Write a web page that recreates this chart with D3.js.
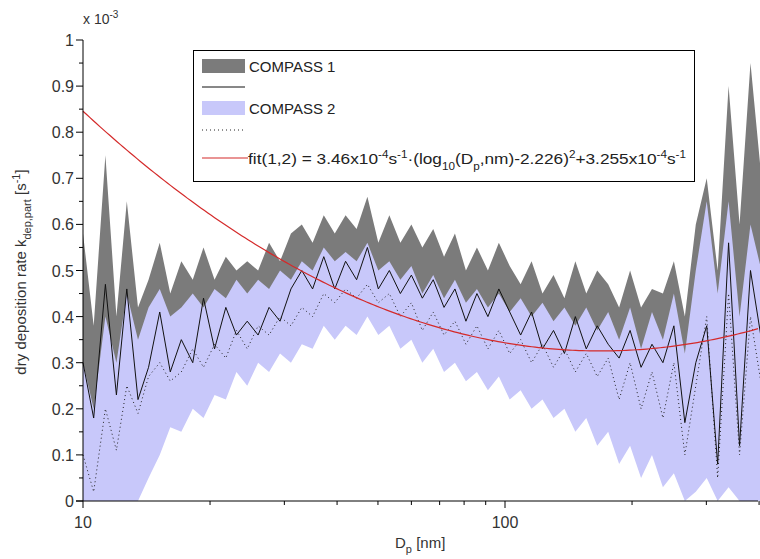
<!DOCTYPE html>
<html><head><meta charset="utf-8">
<script src="https://cdn.jsdelivr.net/npm/d3@7"></script>
<style>body{margin:0;background:#fff}svg{font-family:"Liberation Sans",Arial,sans-serif}</style>
</head><body><svg id="c" width="760" height="559"></svg>
<script>
const diam=[10,10.6,11.3,12.0,12.7,13.5,14.3,15.2,16.1,17.1,18.2,19.3,20.5,21.8,23.1,24.5,26.0,27.6,29.3,31.1,33.0,35.0,37.2,39.5,41.9,44.5,47.2,50.1,53.2,56.5,60.0,63.7,67.6,71.7,76.1,80.8,85.8,91.1,96.7,102.6,108.9,115.6,122.7,130.3,138.3,146.8,155.8,165.4,175.6,186.4,197.9,210.1,223.0,236.7,251.3,266.8,283.2,300.6,319.1,338.7,359.6,381.7,405.2];
const mean1=[0.30,0.18,0.47,0.23,0.46,0.22,0.29,0.41,0.28,0.35,0.30,0.44,0.33,0.42,0.36,0.39,0.36,0.42,0.39,0.46,0.50,0.46,0.53,0.46,0.52,0.48,0.55,0.46,0.50,0.45,0.49,0.44,0.48,0.42,0.46,0.39,0.45,0.40,0.46,0.41,0.36,0.41,0.33,0.37,0.32,0.40,0.33,0.38,0.34,0.31,0.37,0.29,0.34,0.30,0.38,0.17,0.30,0.38,0.08,0.56,0.12,0.50,0.35];
const hi1=[0.58,0.38,0.75,0.40,0.65,0.42,0.48,0.56,0.45,0.52,0.48,0.55,0.48,0.53,0.50,0.52,0.50,0.56,0.52,0.58,0.60,0.56,0.62,0.58,0.62,0.59,0.66,0.56,0.62,0.56,0.60,0.55,0.59,0.53,0.58,0.50,0.55,0.50,0.56,0.51,0.47,0.52,0.45,0.49,0.44,0.52,0.45,0.50,0.47,0.42,0.50,0.42,0.46,0.45,0.52,0.40,0.60,0.70,0.50,0.90,0.60,0.95,0.70];
const lo1=[0.18,0.08,0.30,0.15,0.30,0.15,0.22,0.30,0.22,0.28,0.25,0.35,0.28,0.35,0.31,0.34,0.31,0.36,0.34,0.40,0.44,0.40,0.47,0.40,0.45,0.42,0.48,0.40,0.44,0.39,0.42,0.38,0.40,0.35,0.38,0.32,0.37,0.32,0.38,0.33,0.27,0.32,0.24,0.28,0.22,0.30,0.22,0.28,0.22,0.18,0.25,0.15,0.20,0.15,0.22,0.05,0.10,0.15,0.0,0.20,0.02,0.25,0.10];
const mean2=[0.10,0.02,0.20,0.11,0.25,0.19,0.27,0.30,0.26,0.28,0.33,0.29,0.34,0.31,0.37,0.33,0.38,0.36,0.40,0.38,0.42,0.40,0.45,0.43,0.46,0.44,0.47,0.43,0.45,0.40,0.43,0.37,0.41,0.36,0.39,0.34,0.38,0.33,0.37,0.32,0.35,0.30,0.34,0.29,0.33,0.28,0.32,0.27,0.31,0.22,0.30,0.20,0.28,0.18,0.30,0.10,0.25,0.40,0.05,0.45,0.10,0.40,0.25];
const hi2=[0.30,0.20,0.40,0.30,0.45,0.35,0.42,0.46,0.40,0.42,0.45,0.42,0.46,0.44,0.48,0.45,0.48,0.46,0.50,0.48,0.52,0.50,0.55,0.52,0.54,0.52,0.56,0.50,0.52,0.48,0.51,0.45,0.49,0.44,0.48,0.43,0.46,0.42,0.45,0.41,0.44,0.40,0.43,0.39,0.42,0.38,0.42,0.37,0.41,0.35,0.42,0.33,0.41,0.35,0.45,0.32,0.50,0.65,0.45,0.65,0.40,0.60,0.50];
const lo2=[0.0,0.0,0.0,0.0,0.0,0.0,0.05,0.10,0.16,0.15,0.20,0.18,0.23,0.22,0.28,0.25,0.30,0.28,0.32,0.30,0.34,0.33,0.38,0.35,0.38,0.36,0.40,0.36,0.38,0.33,0.35,0.30,0.33,0.28,0.30,0.26,0.28,0.24,0.27,0.22,0.24,0.20,0.22,0.18,0.20,0.15,0.18,0.12,0.15,0.08,0.12,0.05,0.10,0.03,0.06,0.0,0.02,0.05,0.0,0.03,0.0,0.0,0.0];
const fitCoef={a:0.346,c:2.226,b:0.3255};
const yTicks=[0,0.1,0.2,0.3,0.4,0.5,0.6,0.7,0.8,0.9,1];
const xTickLabels=[10,100];
const xMinor=[20,30,40,50,60,70,80,90,200,300,400];

const svg=d3.select("#c");
const L=83,R=758,T=40,B=501;
const x=d3.scaleLog().domain([10,10**(1+(R-L)/422)]).range([L,R]);
const y=d3.scaleLinear().domain([0,1]).range([B,T]);
const n=Math.min(diam.length,mean1.length,hi1.length,lo1.length,mean2.length,hi2.length,lo2.length);
const idx=d3.range(n);
const g=svg.append("g");
g.append("path").attr("d",d3.area().x(i=>x(diam[i])).y0(i=>y(lo1[i])).y1(i=>y(hi1[i]))(idx)).attr("fill","#7b7b7b");
g.append("path").attr("d",d3.area().x(i=>x(diam[i])).y0(i=>y(lo2[i])).y1(i=>y(hi2[i]))(idx)).attr("fill","#c8c8fa");
g.append("path").attr("d",d3.line().x(i=>x(diam[i])).y(i=>y(mean2[i]))(idx)).attr("fill","none").attr("stroke","#222").attr("stroke-width",1).attr("stroke-dasharray","1,3");
g.append("path").attr("d",d3.line().x(i=>x(diam[i])).y(i=>y(mean1[i]))(idx)).attr("fill","none").attr("stroke","#111").attr("stroke-width",1);
const fx=d3.range(0,201).map(k=>10**(1+k/200*Math.log10(x.domain()[1]/10)));
g.append("path").attr("d",d3.line().x(d=>x(d)).y(d=>y(fitCoef.a*(Math.log10(d)-fitCoef.c)**2+fitCoef.b))(fx)).attr("fill","none").attr("stroke","#d42a2a").attr("stroke-width",1.2);

// axes
svg.append("line").attr("x1",L).attr("x2",L).attr("y1",T).attr("y2",B).attr("stroke","#000");
svg.append("line").attr("x1",L-7).attr("x2",R).attr("y1",B).attr("y2",B).attr("stroke","#000");
yTicks.forEach(v=>{svg.append("line").attr("x1",L-7).attr("x2",L).attr("y1",y(v)).attr("y2",y(v)).attr("stroke","#000");
 svg.append("text").attr("x",L-9).attr("y",y(v)+6).attr("text-anchor","end").attr("font-size",16).attr("fill","#333").text(v===0?"0":v===1?"1":d3.format(".1f")(v));});
d3.range(0.05,1,0.1).forEach(v=>svg.append("line").attr("x1",L-4).attr("x2",L).attr("y1",y(v)).attr("y2",y(v)).attr("stroke","#000"));
xTickLabels.forEach(v=>{svg.append("line").attr("x1",x(v)).attr("x2",x(v)).attr("y1",B).attr("y2",B+7).attr("stroke","#000");
 svg.append("text").attr("x",x(v)).attr("y",B+27).attr("text-anchor","middle").attr("font-size",16).attr("fill","#333").text(v);});
xMinor.forEach(v=>svg.append("line").attr("x1",x(v)).attr("x2",x(v)).attr("y1",B).attr("y2",B+4).attr("stroke","#000"));
svg.append("text").attr("x",L).attr("y",24).attr("font-size",14).attr("fill","#333").html('x 10<tspan dy="-6" font-size="10">-3</tspan>');
svg.append("text").attr("x",395).attr("y",548).attr("font-size",15).attr("fill","#333").html('D<tspan dy="5" font-size="11">p</tspan><tspan dy="-5"> [nm]</tspan>');
svg.append("text").attr("transform","translate(26,272) rotate(-90)").attr("text-anchor","middle").attr("font-size",15).attr("fill","#333")
 .html('dry deposition rate k<tspan dy="5" font-size="11">dep,part</tspan><tspan dy="-5"> [s</tspan><tspan dy="-6" font-size="11">-1</tspan><tspan dy="6">]</tspan>');

// legend
const lg=svg.append("g");
lg.append("rect").attr("x",193.5).attr("y",50.5).attr("width",501).attr("height",131).attr("fill","#fff").attr("stroke","#000");
lg.append("rect").attr("x",202).attr("y",59).attr("width",43).attr("height",14).attr("fill","#7b7b7b");
lg.append("text").attr("x",249).attr("y",72).attr("font-size",15).attr("fill","#222").text("COMPASS 1");
lg.append("line").attr("x1",202).attr("x2",245).attr("y1",87).attr("y2",87).attr("stroke","#111");
lg.append("rect").attr("x",202).attr("y",101).attr("width",43).attr("height",14).attr("fill","#c8c8fa");
lg.append("text").attr("x",249).attr("y",114).attr("font-size",15).attr("fill","#222").text("COMPASS 2");
lg.append("line").attr("x1",202).attr("x2",245).attr("y1",130).attr("y2",130).attr("stroke","#222").attr("stroke-dasharray","1,3");
lg.append("line").attr("x1",202).attr("x2",248).attr("y1",158).attr("y2",158).attr("stroke","#d42a2a").attr("stroke-width",1.2);
lg.append("text").attr("x",248).attr("y",164).attr("font-size",15.5).attr("fill","#222").attr("textLength",438).attr("lengthAdjust","spacingAndGlyphs")
 .html('fit(1,2) = 3.46x10<tspan dy="-6" font-size="10.5">-4</tspan><tspan dy="6">s</tspan><tspan dy="-6" font-size="10.5">-1</tspan><tspan dy="6">·(log</tspan><tspan dy="6" font-size="10.5">10</tspan><tspan dy="-6">(D</tspan><tspan dy="6" font-size="10.5">p</tspan><tspan dy="-6">,nm)-2.226)</tspan><tspan dy="-6" font-size="10.5">2</tspan><tspan dy="6">+3.255x10</tspan><tspan dy="-6" font-size="10.5">-4</tspan><tspan dy="6">s</tspan><tspan dy="-6" font-size="10.5">-1</tspan>');
</script></body></html>
